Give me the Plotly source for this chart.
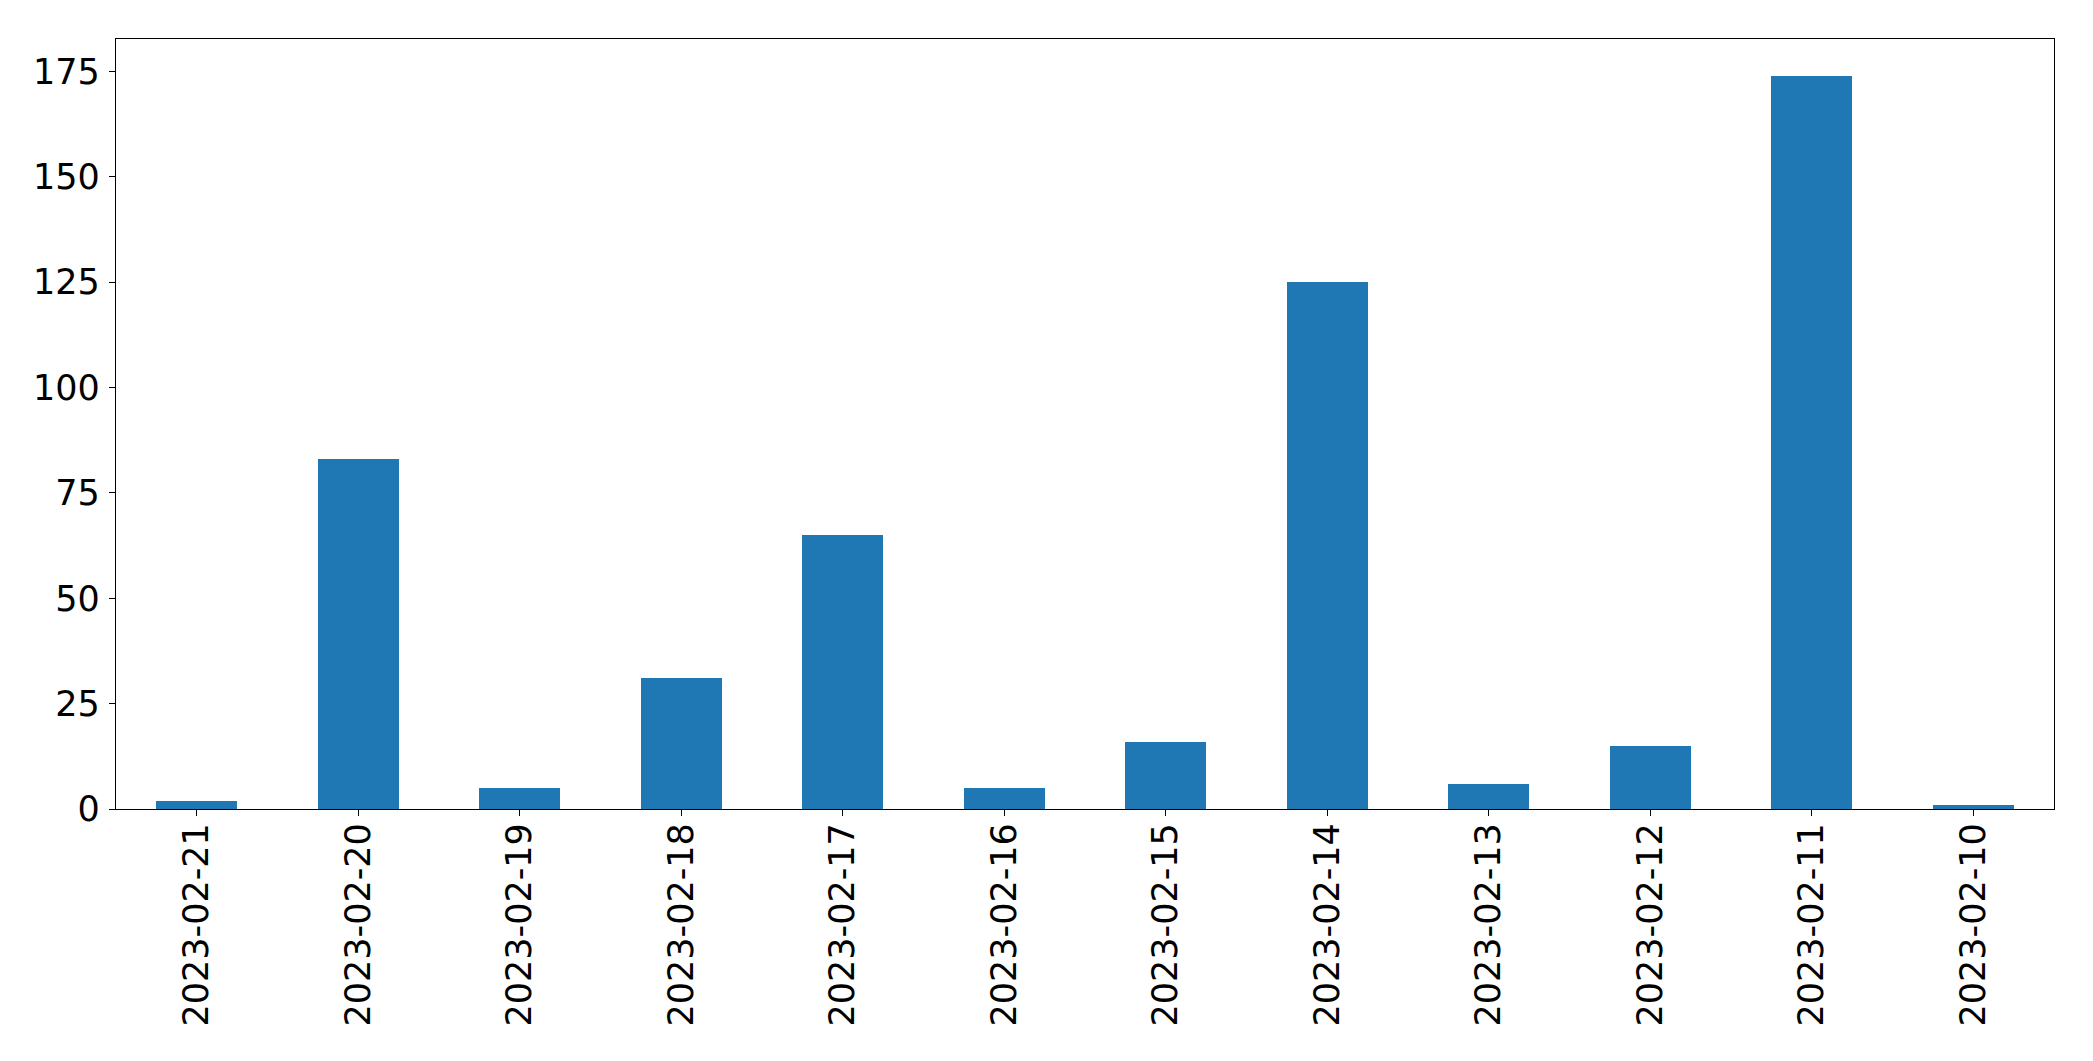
import plotly.graph_objects as go

dates = ["2023-02-21", "2023-02-20", "2023-02-19", "2023-02-18", "2023-02-17", "2023-02-16",
         "2023-02-15", "2023-02-14", "2023-02-13", "2023-02-12", "2023-02-11", "2023-02-10"]
counts = [2, 83, 5, 31, 65, 5, 16, 125, 6, 15, 174, 1]
y_ticks = [0, 25, 50, 75, 100, 125, 150, 175]

fig = go.Figure(go.Bar(x=dates, y=counts, width=0.5, marker=dict(color="#1f77b4", line=dict(width=0))))

font = dict(family="DejaVu Sans", size=35, color="black")
fig.update_layout(
    width=2093, height=1061,
    margin=dict(l=116, r=39, t=39, b=252),
    plot_bgcolor="white", paper_bgcolor="white",
    font=font, showlegend=False, bargap=0,
)
fig.update_xaxes(
    type="category", range=[-0.5, len(dates) - 0.5], tickangle=-90,
    showline=True, mirror=True, linecolor="black", linewidth=1.3,
    ticks="outside", ticklen=6, tickwidth=1.3, tickcolor="black",
    showgrid=False, zeroline=False, tickfont=font, ticklabelstandoff=-7,
)
fig.update_yaxes(
    range=[0, max(counts) * 1.05], tickvals=y_ticks,
    showline=True, mirror=True, linecolor="black", linewidth=1.3,
    ticks="outside", ticklen=6, tickwidth=1.3, tickcolor="black",
    showgrid=False, zeroline=False, tickfont=font, ticklabelstandoff=2,
)
fig.write_html("out.html", config={"displayModeBar": False},
               post_script="document.body.style.margin='0';document.body.style.overflow='hidden';")
